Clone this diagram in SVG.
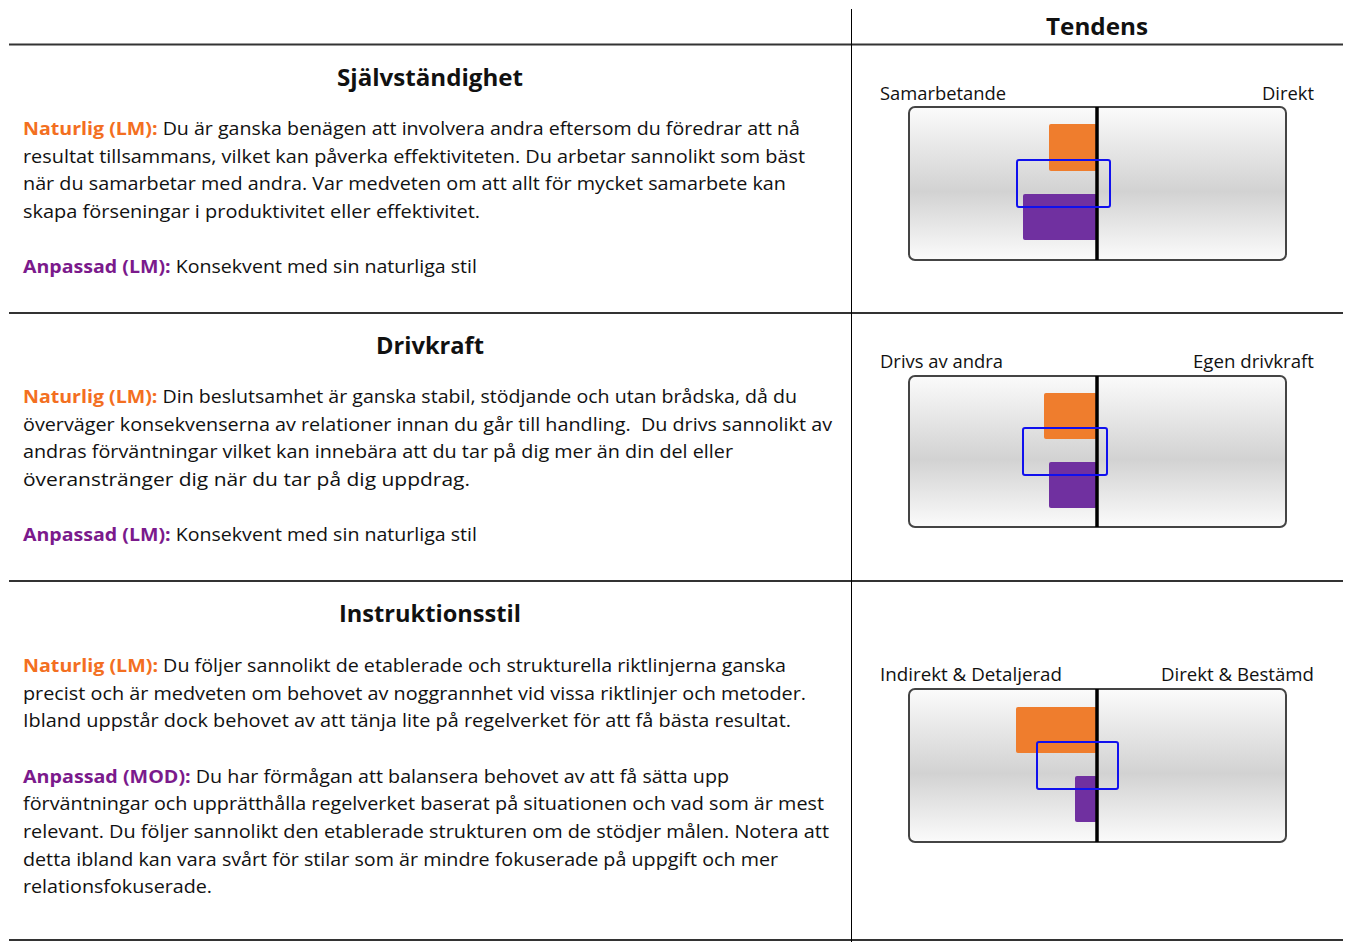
<svg xmlns="http://www.w3.org/2000/svg" width="1349" height="942" viewBox="0 0 1349 942">
<style>
.t{font-family:"Open Sans","Noto Sans","Liberation Sans",sans-serif;font-size:18px;fill:#111}
.h{font-family:"Open Sans","Noto Sans","Liberation Sans",sans-serif;font-size:23.5px;font-weight:bold;fill:#111}
.lbl{font-family:"Open Sans","Noto Sans","Liberation Sans",sans-serif;font-size:17.5px;fill:#111}
.nat{font-weight:bold;fill:#f36f21}
.anp{font-weight:bold;fill:#7b1a8c}
.rule{stroke:#333;stroke-width:2}
.box{fill:url(#g);stroke:#444;stroke-width:2}
.mid{stroke:#000;stroke-width:3.5}
.or{fill:#ef7d2d}
.pu{fill:#7030a0}
.bl{fill:none;stroke:#1010ee;stroke-width:2}
</style>
<defs>
<linearGradient id="g" x1="0" y1="0" x2="0" y2="1">
<stop offset="0" stop-color="#fbfbfb"/>
<stop offset="0.55" stop-color="#d2d2d2"/>
<stop offset="1" stop-color="#fbfbfb"/>
</linearGradient>
</defs>
<rect width="1349" height="942" fill="#fff"/>
<g id="grid">
<line class="rule" x1="9" y1="44.5" x2="1343" y2="44.5" stroke="#555"/>
<line class="rule" x1="9" y1="313" x2="1343" y2="313"/>
<line class="rule" x1="9" y1="581" x2="1343" y2="581"/>
<line class="rule" x1="9" y1="940" x2="1343" y2="940"/>
<line x1="851.5" y1="9" x2="851.5" y2="942" stroke="#000" stroke-width="1"/>
<text class="h" x="1046" y="35" textLength="102" lengthAdjust="spacingAndGlyphs">Tendens</text>
</g>
<g id="section1">
<text class="h" x="337" y="86" textLength="186" lengthAdjust="spacingAndGlyphs">Självständighet</text>
<text class="t" x="23" y="135" textLength="777" lengthAdjust="spacingAndGlyphs"><tspan class="nat">Naturlig (LM):</tspan> Du är ganska benägen att involvera andra eftersom du föredrar att nå</text>
<text class="t" x="23" y="163" textLength="782" lengthAdjust="spacingAndGlyphs">resultat tillsammans, vilket kan påverka effektiviteten. Du arbetar sannolikt som bäst</text>
<text class="t" x="23" y="190" textLength="763" lengthAdjust="spacingAndGlyphs">när du samarbetar med andra. Var medveten om att allt för mycket samarbete kan</text>
<text class="t" x="23" y="218" textLength="457" lengthAdjust="spacingAndGlyphs">skapa förseningar i produktivitet eller effektivitet.</text>
<text class="t" x="23" y="273" textLength="454" lengthAdjust="spacingAndGlyphs"><tspan class="anp">Anpassad (LM):</tspan> Konsekvent med sin naturliga stil</text>
</g>
<g id="chart1">
<text class="lbl" x="880" y="100" textLength="126" lengthAdjust="spacingAndGlyphs">Samarbetande</text>
<text class="lbl" x="1262" y="100" textLength="52" lengthAdjust="spacingAndGlyphs">Direkt</text>
<rect class="box" x="909" y="107" width="377" height="153" rx="6"/>
<rect class="or" x="1049" y="124" width="48" height="47" rx="2"/>
<rect class="pu" x="1023" y="194" width="74" height="46" rx="2"/>
<line class="mid" x1="1097" y1="107" x2="1097" y2="260"/>
<rect class="bl" x="1017" y="160" width="93" height="47" rx="2"/>
</g>
<g id="section2">
<text class="h" x="376" y="354" textLength="108" lengthAdjust="spacingAndGlyphs">Drivkraft</text>
<text class="t" x="23" y="403" textLength="774" lengthAdjust="spacingAndGlyphs"><tspan class="nat">Naturlig (LM):</tspan> Din beslutsamhet är ganska stabil, stödjande och utan brådska, då du</text>
<text class="t" x="23" y="431" textLength="809" lengthAdjust="spacingAndGlyphs" xml:space="preserve">överväger konsekvenserna av relationer innan du går till handling.  Du drivs sannolikt av</text>
<text class="t" x="23" y="458" textLength="710" lengthAdjust="spacingAndGlyphs">andras förväntningar vilket kan innebära att du tar på dig mer än din del eller</text>
<text class="t" x="23" y="486" textLength="447" lengthAdjust="spacingAndGlyphs">överanstränger dig när du tar på dig uppdrag.</text>
<text class="t" x="23" y="541" textLength="454" lengthAdjust="spacingAndGlyphs"><tspan class="anp">Anpassad (LM):</tspan> Konsekvent med sin naturliga stil</text>
</g>
<g id="chart2">
<text class="lbl" x="880" y="368" textLength="123" lengthAdjust="spacingAndGlyphs">Drivs av andra</text>
<text class="lbl" x="1193" y="368" textLength="121" lengthAdjust="spacingAndGlyphs">Egen drivkraft</text>
<rect class="box" x="909" y="376" width="377" height="151" rx="6"/>
<rect class="or" x="1044" y="393" width="53" height="46" rx="2"/>
<rect class="pu" x="1049" y="462" width="48" height="46" rx="2"/>
<line class="mid" x1="1097" y1="376" x2="1097" y2="527"/>
<rect class="bl" x="1023" y="428" width="84" height="47" rx="2"/>
</g>
<g id="section3">
<text class="h" x="339" y="622" textLength="182" lengthAdjust="spacingAndGlyphs">Instruktionsstil</text>
<text class="t" x="23" y="672" textLength="763" lengthAdjust="spacingAndGlyphs"><tspan class="nat">Naturlig (LM):</tspan> Du följer sannolikt de etablerade och strukturella riktlinjerna ganska</text>
<text class="t" x="23" y="700" textLength="783" lengthAdjust="spacingAndGlyphs">precist och är medveten om behovet av noggrannhet vid vissa riktlinjer och metoder.</text>
<text class="t" x="23" y="727" textLength="768" lengthAdjust="spacingAndGlyphs">Ibland uppstår dock behovet av att tänja lite på regelverket för att få bästa resultat.</text>
<text class="t" x="23" y="783" textLength="706" lengthAdjust="spacingAndGlyphs"><tspan class="anp">Anpassad (MOD):</tspan> Du har förmågan att balansera behovet av att få sätta upp</text>
<text class="t" x="23" y="810" textLength="801" lengthAdjust="spacingAndGlyphs">förväntningar och upprätthålla regelverket baserat på situationen och vad som är mest</text>
<text class="t" x="23" y="838" textLength="806" lengthAdjust="spacingAndGlyphs">relevant. Du följer sannolikt den etablerade strukturen om de stödjer målen. Notera att</text>
<text class="t" x="23" y="866" textLength="755" lengthAdjust="spacingAndGlyphs">detta ibland kan vara svårt för stilar som är mindre fokuserade på uppgift och mer</text>
<text class="t" x="23" y="893" textLength="189" lengthAdjust="spacingAndGlyphs">relationsfokuserade.</text>
</g>
<g id="chart3">
<text class="lbl" x="880" y="681" textLength="182" lengthAdjust="spacingAndGlyphs">Indirekt &amp; Detaljerad</text>
<text class="lbl" x="1161" y="681" textLength="153" lengthAdjust="spacingAndGlyphs">Direkt &amp; Bestämd</text>
<rect class="box" x="909" y="689" width="377" height="153" rx="6"/>
<rect class="or" x="1016" y="707" width="81" height="46" rx="2"/>
<rect class="pu" x="1075" y="776" width="22" height="46" rx="2"/>
<line class="mid" x1="1097" y1="689" x2="1097" y2="842"/>
<rect class="bl" x="1037" y="742" width="81" height="47" rx="2"/>
</g>
</svg>
